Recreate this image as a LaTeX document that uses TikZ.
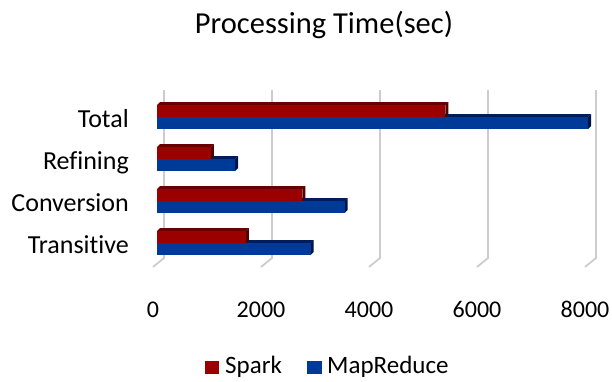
\documentclass[tikz,border=0pt]{standalone}
\usepackage{fontspec}
\setmainfont{Carlito}[Ligatures=NoCommon]
\usepackage{xcolor}

\definecolor{sparkfront}{RGB}{155,0,0}
\definecolor{sparktop}{RGB}{105,0,0}
\definecolor{sparkside}{RGB}{80,0,0}
\definecolor{mrfront}{RGB}{0,58,152}
\definecolor{mrtop}{RGB}{0,28,92}
\definecolor{mrside}{RGB}{0,20,72}

% one 3D bar: value, top y, colour prefix
\newcommand{\drawbar}[3]{%
  \pgfmathsetmacro\xe{157+0.053875*#1}
  \fill[#3top] (157,#2) -- (160,#2-3) -- (\xe+3,#2-3) -- (\xe,#2) -- cycle;
  \fill[#3side] (\xe,#2) -- (\xe+3,#2-3) -- (\xe+3,#2+9) -- (\xe,#2+12) -- cycle;
  \fill[#3front] (157,#2) rectangle (\xe,#2+12);
}

\begin{document}
\begin{tikzpicture}[x=1pt,y=-1pt,
    grid line/.style={draw=black!20,line width=1.8pt},
    cat node/.style={font=\fontsize{26}{30}\selectfont,anchor=base east,inner sep=0pt},
    tick node/.style={font=\fontsize{24}{28}\selectfont,anchor=base,inner sep=0pt},
    key node/.style={font=\fontsize{25}{30}\selectfont,anchor=base west,inner sep=0pt}]
    \useasboundingbox (0,0) rectangle (612,381);

    \node[font=\fontsize{30.5}{36}\selectfont,anchor=base,inner sep=0pt] (title) at (324,33) {Processing Time(sec)};

    % back wall and floor
    \foreach \v [count=\k from 0] in {0,2000,4000,6000,8000} {
        \draw[grid line] (164+108*\k,90) -- (164+108*\k,258) -- (153+108*\k,267);
        \node[tick node] (tick-\k) at (153+108*\k,317) {\v};
    }

    % bars
    \foreach \lab/\sp/\mr [count=\i from 0] in {Total/5350/8000,Refining/1000/1450,Conversion/2700/3480,Transitive/1650/2850} {
        \pgfmathsetmacro\t{105+42*\i}
        \drawbar{\mr}{\t+12}{mr}
        \drawbar{\sp}{\t}{spark}
        \node[cat node] (cat-\i) at (129,\t+22.5) {\lab};
    }

    % legend
    \fill[sparkfront] (205,361) rectangle (219,374);
    \node[key node] (key-spark) at (225,373) {Spark};
    \fill[mrfront] (307,361) rectangle (322,374);
    \node[key node] (key-mr) at (327,373) {MapReduce};
\end{tikzpicture}
\end{document}
